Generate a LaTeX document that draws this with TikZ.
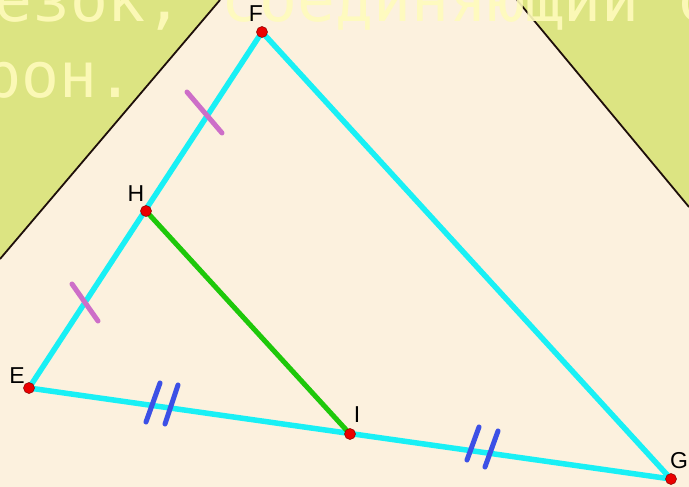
\documentclass[tikz,border=0pt]{standalone}
\usepackage{fontspec}
\setmainfont{Liberation Sans}
\newfontfamily\slidemono{DejaVu Sans Mono}
\definecolor{bgcream}{RGB}{252,241,222}
\definecolor{bggreen}{RGB}{220,228,130}
\definecolor{slidetext}{RGB}{255,251,188}
\definecolor{segcyan}{RGB}{25,240,245}
\definecolor{midgreen}{RGB}{30,200,10}
\definecolor{tickpink}{RGB}{205,110,200}
\definecolor{tickblue}{RGB}{60,80,230}
\definecolor{ptred}{RGB}{235,0,0}
\definecolor{edgeline}{RGB}{30,15,10}
\begin{document}
\begin{tikzpicture}[x=1pt,y=-1pt,
  border/.style={draw=edgeline,line width=1.8pt},
  slidetxt/.style={anchor=base west,inner sep=0pt,text=slidetext,text opacity=0.9,font=\slidemono\fontsize{63}{63}\selectfont},
  side/.style={draw=segcyan,line width=5.5pt},
  midseg/.style={draw=midgreen,line width=5pt},
  tickA/.style={draw=tickpink,line width=5pt,line cap=round},
  tickB/.style={draw=tickblue,line width=5pt,line cap=round},
  ptdot/.style={circle,fill=ptred,draw=ptred!55!black,line width=0.5pt,inner sep=0pt,minimum size=11pt},
  lbl/.style={inner sep=0pt,font=\fontsize{23}{23}\selectfont,text=black}]
\useasboundingbox (0,0) rectangle (689,487);
\clip (0,0) rectangle (689,487);
% background
\fill[bgcream] (0,0) rectangle (689,487);
\fill[bggreen] (0,0) -- (220,0) -- (0,259) -- cycle;
\fill[bggreen] (517,0) -- (689,0) -- (689,207) -- cycle;
\coordinate (BL1) at (220,0);
\coordinate (BL2) at (0,259);
\coordinate (BR1) at (517,0);
\coordinate (BR2) at (689,207);
\draw[border] (BL1) -- (BL2);
\draw[border] (BR1) -- (BR2);
% slide text
\node[slidetxt] (txt1) at (-6,22) {езок, соединяющий с};
\node[slidetxt] (txt2) at (-17,98) {рон.};
% points
\coordinate (E) at (29,388);
\coordinate (F) at (262,32);
\coordinate (G) at (671,479);
\coordinate (H) at (146,211);
\coordinate (I) at (350,434);
% triangle sides
\draw[side] (E) -- (F);
\draw[side] (F) -- (G);
\draw[side] (E) -- (G);
% midline
\draw[midseg] (H) -- (I);
% equal-length ticks
\draw[tickA] (187,92) -- (222,133);
\draw[tickA] (72,284) -- (98,321);
\draw[tickB] (160,383) -- (146,422);
\draw[tickB] (178,385) -- (165,424);
\draw[tickB] (479,427) -- (467,460);
\draw[tickB] (498,431) -- (485,467);
% dots
\node[ptdot] (Ed) at (E) {};
\node[ptdot] (Fd) at (F) {};
\node[ptdot] (Gd) at (G) {};
\node[ptdot] (Hd) at (H) {};
\node[ptdot] (Id) at (I) {};
% labels
\node[lbl] (El) at (17,376) {E};
\node[lbl] (Fl) at (256,14) {F};
\node[lbl] (Gl) at (679,461) {G};
\node[lbl] (Hl) at (136,194) {H};
\node[lbl] (Il) at (357,415) {I};
\end{tikzpicture}
\end{document}
